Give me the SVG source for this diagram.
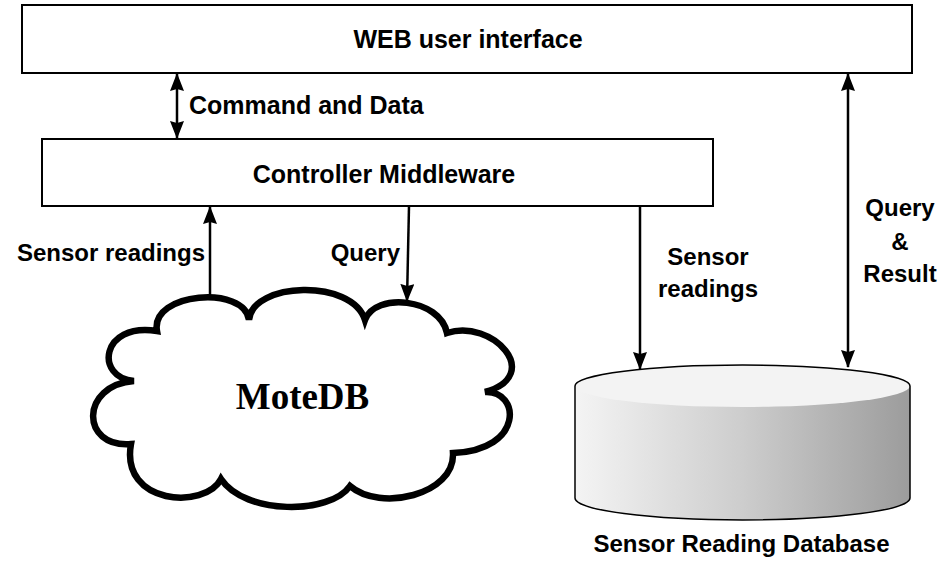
<svg xmlns="http://www.w3.org/2000/svg" width="941" height="563" viewBox="0 0 941 563">
<style>
.box{fill:#fff;stroke:#000;stroke-width:2}
.t1{font-family:"Liberation Sans",Arial,sans-serif;font-weight:bold;font-size:25px;fill:#000}
.t2{font-family:"Liberation Sans",Arial,sans-serif;font-weight:bold;font-size:24px;fill:#000}
.conn{stroke:#000;stroke-width:2.5;fill:none}
</style>
<defs>
<marker id="ah" markerUnits="userSpaceOnUse" markerWidth="18" markerHeight="14" refX="17" refY="7" orient="auto-start-reverse" viewBox="0 0 18 14">
<path d="M0,0 L18,7 L0,14 L2,7 Z" fill="#000"/>
</marker>
<linearGradient id="body" x1="0" y1="0" x2="1" y2="0">
<stop offset="0" stop-color="#f4f4f4"/>
<stop offset="0.5" stop-color="#cdcdcd"/>
<stop offset="1" stop-color="#9c9c9c"/>
</linearGradient>
</defs>
<rect width="941" height="563" fill="#fff"/>

<g id="web">
<rect class="box" x="22" y="5" width="890" height="68"/>
<text class="t1" x="468" y="48" text-anchor="middle">WEB user interface</text>
</g>

<g id="controller">
<rect class="box" x="42" y="139" width="671" height="67"/>
<text class="t1" x="384" y="183" text-anchor="middle">Controller Middleware</text>
</g>

<g id="motedb">
<path d="M157,331 C150,292 245,285 249,320 C252,282 352,278 365,320 C375,292 440,298 447,333 C492,318 545,375 485,392 C520,390 525,450 453,453 C455,495 380,512 350,486 C330,515 245,515 221,479 C205,510 120,505 131,444 C80,448 80,385 134,381 C95,378 100,322 157,331 Z" fill="#fff" stroke="#000" stroke-width="6.5" stroke-linejoin="miter"/>
<text x="302.5" y="409" text-anchor="middle" font-family="'Liberation Serif','Times New Roman',serif" font-weight="bold" font-size="37">MoteDB</text>
</g>

<g id="database">
<path d="M575,386 L575,498 A167.5,22 0 0 0 910,498 L910,386 Z" fill="url(#body)"/>
<ellipse cx="742.5" cy="386" rx="167.5" ry="21" fill="#f3f3f3"/>
<path d="M575,386 L575,498 A167.5,22 0 0 0 910,498 L910,386 A167.5,21 0 0 0 575,386 Z" fill="none" stroke="#000" stroke-width="1.5"/>
<text class="t2" x="741.5" y="552" text-anchor="middle">Sensor Reading Database</text>
</g>

<g id="connectors">
<line class="conn" x1="177" y1="74" x2="177" y2="138" marker-start="url(#ah)" marker-end="url(#ah)"/>
<text class="t1" x="189" y="114">Command and Data</text>
<line class="conn" x1="210" y1="295" x2="210" y2="207" marker-end="url(#ah)"/>
<text class="t2" x="205" y="261" text-anchor="end">Sensor readings</text>
<line class="conn" x1="409" y1="206" x2="407" y2="301" marker-end="url(#ah)"/>
<text class="t2" x="400" y="261" text-anchor="end">Query</text>
<line class="conn" x1="640" y1="206" x2="640" y2="369" marker-end="url(#ah)"/>
<text class="t2" x="708" y="265" text-anchor="middle">Sensor</text>
<text class="t2" x="708" y="297" text-anchor="middle">readings</text>
<line class="conn" x1="848" y1="74" x2="848" y2="367" marker-start="url(#ah)" marker-end="url(#ah)"/>
<text class="t2" x="900" y="216" text-anchor="middle">Query</text>
<text class="t2" x="900" y="250" text-anchor="middle">&amp;</text>
<text class="t2" x="900" y="282" text-anchor="middle">Result</text>
</g>
</svg>
